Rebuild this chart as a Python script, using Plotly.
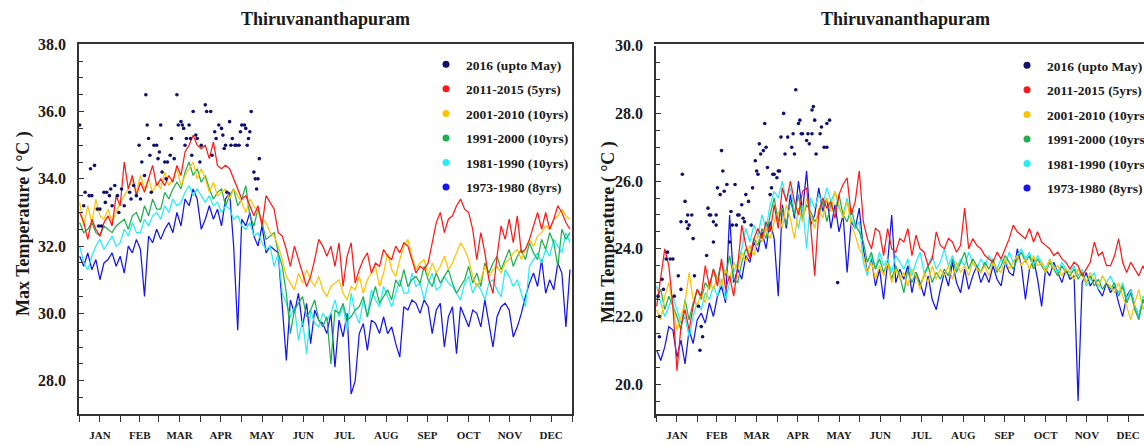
import plotly.graph_objects as go

# ---------------- data ----------------
# sample days (day of year, every 3rd day)
DAYS = list(range(1, 366, 3))

SERIES = ["2016 (upto May)", "2011-2015 (5yrs)", "2001-2010 (10yrs)",
          "1991-2000 (10yrs)", "1981-1990 (10yrs)", "1973-1980 (8yrs)"]
MONTHS = ["JAN", "FEB", "MAR", "APR", "MAY", "JUN",
          "JUL", "AUG", "SEP", "OCT", "NOV", "DEC"]
MONTH_START = [0.5, 31.5, 59.5, 90.5, 120.5, 151.5, 181.5, 212.5, 243.5, 273.5, 304.5, 334.5, 365.5]
MONTH_MID = [16, 45.5, 75, 105.5, 136, 166.5, 197, 228, 258.5, 289, 319.5, 350]

# ---- Max temperature ----
MAX_2011_2015 = (
    [33.0, 32.7, 32.2, 32.8, 32.5, 32.3, 32.7, 32.9, 32.6, 33.5, 33.2] +
    [34.5, 33.7, 34.1, 33.5, 33.9, 33.6, 34.0, 34.4, 33.8] +
    [34.0, 33.8, 34.1, 33.9, 34.4, 34.1, 34.8, 35.0, 35.3, 35.0] +
    [34.9, 35.0, 34.6, 35.1, 34.4, 34.3, 34.4, 34.3, 34.0, 33.7] +
    [33.4, 33.5, 33.2, 32.9, 33.2, 32.6, 33.5, 33.3, 33.1, 32.4, 32.3] +
    [31.9, 31.4, 32.0, 31.6, 31.2, 30.8, 31.1, 31.6, 32.2, 32.0] +
    [31.7, 32.0, 31.4, 32.1, 30.8, 31.7, 32.1, 30.9, 31.3, 31.6] +
    [31.8, 31.2, 31.5, 31.4, 31.9, 31.7, 31.6, 32.0, 31.8, 32.1] +
    [32.0, 31.6, 31.2, 31.4, 31.3, 31.5, 32.1, 32.7, 33.0, 32.4] +
    [32.8, 32.9, 33.2, 33.4, 33.1, 33.0, 32.5, 31.6, 32.4, 31.8, 31.0] +
    [30.6, 31.7, 32.6, 32.2, 32.8, 32.1, 32.9, 31.8, 31.9, 32.2] +
    [32.6, 33.0, 32.5, 33.0, 32.5, 32.8, 33.2, 33.0, 32.7, 32.5])
MAX_2001_2010 = (
    [33.3, 32.6, 33.2, 32.7, 33.4, 32.9, 32.8, 33.1, 32.7, 33.0, 33.3] +
    [33.5, 33.7, 34.0, 33.6, 34.1, 33.7, 34.0, 33.6, 33.9] +
    [33.7, 34.2, 33.8, 34.0, 34.3, 33.8, 34.1, 34.3, 34.5, 34.0] +
    [34.3, 34.0, 33.6, 33.9, 33.5, 33.6, 33.7, 33.4, 33.7, 33.5] +
    [33.3, 33.0, 33.4, 33.2, 33.0, 32.8, 32.7, 32.4, 32.3, 32.0, 31.6] +
    [31.1, 30.9, 30.7, 31.2, 30.9, 31.3, 31.0, 30.8, 31.1, 30.7] +
    [30.5, 30.8, 30.9, 31.0, 30.6, 30.4, 30.8, 30.7, 31.1, 30.6] +
    [31.0, 31.2, 31.4, 30.8, 31.2, 31.8, 31.3, 31.1, 31.6, 32.0] +
    [32.2, 31.7, 31.3, 31.5, 31.6, 31.1, 31.5, 31.2, 31.4, 31.7] +
    [31.3, 31.5, 31.8, 32.1, 31.9, 31.6, 31.1, 30.8, 31.0, 31.4, 31.1] +
    [31.3, 31.4, 31.2, 31.5, 31.6, 31.8, 31.9, 31.6, 31.9, 32.2] +
    [32.0, 32.3, 32.4, 32.6, 32.5, 32.8, 32.9, 33.1, 32.9, 32.8])
MAX_1991_2000 = (
    [32.7, 32.4, 32.5, 32.7, 32.4, 32.3, 32.6, 32.5, 32.4, 32.6, 32.7] +
    [32.8, 32.5, 32.9, 33.0, 32.7, 33.2, 32.9, 33.4, 33.1] +
    [33.1, 33.6, 33.4, 33.7, 33.9, 33.7, 34.2, 34.5, 34.1, 34.3] +
    [33.9, 34.1, 33.7, 33.4, 33.6, 33.7, 33.2, 33.5, 33.7, 33.2] +
    [33.4, 33.8, 32.9, 32.6, 33.1, 32.7, 32.2, 32.3, 32.4, 31.8, 31.4] +
    [30.6, 29.4, 30.1, 30.3, 30.5, 29.9, 30.1, 30.4, 29.8, 29.6] +
    [29.9, 28.5, 30.1, 30.0, 30.3, 29.8, 29.9, 30.1, 30.2, 30.5] +
    [29.9, 30.4, 30.8, 30.3, 30.5, 30.7, 30.4, 31.0, 30.8, 31.3] +
    [30.8, 31.0, 31.1, 30.9, 31.4, 31.0, 30.8, 31.2, 30.9, 31.1] +
    [31.3, 30.9, 30.6, 30.8, 31.0, 31.4, 30.9, 31.2, 30.8, 31.5, 31.2] +
    [31.5, 31.7, 31.3, 31.6, 31.9, 31.4, 31.7, 31.9, 31.6, 32.1] +
    [31.8, 31.6, 32.2, 31.9, 32.4, 32.1, 31.4, 32.5, 32.2, 32.4])
MAX_1981_1990 = (
    [32.0, 31.5, 31.3, 31.7, 32.0, 32.2, 31.9, 32.1, 32.3, 32.0, 32.1] +
    [32.5, 32.3, 32.7, 32.4, 32.4, 32.8, 32.6, 32.9, 33.0] +
    [32.8, 33.2, 33.0, 33.4, 33.2, 33.3, 33.6, 33.8, 33.5, 33.7] +
    [33.5, 33.3, 33.5, 33.2, 33.3, 33.0, 33.2, 33.1, 32.8, 32.9] +
    [32.6, 32.5, 32.7, 32.3, 32.4, 32.1, 31.9, 32.0, 31.4, 31.8, 30.6] +
    [30.3, 29.9, 30.2, 29.2, 29.8, 28.8, 30.1, 29.7, 29.6, 30.0] +
    [29.8, 30.0, 30.4, 29.9, 30.2, 29.5, 30.6, 30.0, 29.7, 30.4] +
    [29.9, 30.7, 30.4, 30.2, 30.8, 30.5, 30.2, 30.6, 31.0, 30.6] +
    [30.6, 31.2, 30.8, 30.9, 30.4, 30.9, 31.2, 30.7, 30.8, 31.1] +
    [30.9, 30.8, 30.6, 30.4, 30.9, 31.1, 30.6, 30.9, 30.7, 30.4, 30.9] +
    [31.0, 30.7, 30.5, 31.3, 31.1, 30.8, 31.0, 30.6, 30.2, 31.4] +
    [31.6, 31.8, 31.5, 31.9, 31.7, 32.2, 32.0, 31.8, 32.4, 32.1])
MAX_1973_1980 = (
    [31.7, 31.4, 31.8, 31.3, 31.6, 31.0, 31.5, 31.6, 31.8, 31.4, 31.7] +
    [31.2, 32.0, 31.8, 32.2, 31.9, 30.5, 32.3, 32.1, 32.5] +
    [32.2, 32.5, 32.7, 32.4, 33.0, 32.6, 33.4, 33.2, 33.7, 33.4] +
    [32.5, 32.8, 33.2, 32.8, 33.1, 32.6, 33.4, 33.6, 32.0, 29.5] +
    [32.8, 32.6, 33.0, 32.3, 32.0, 32.6, 31.8, 32.0, 31.9, 31.8, 30.2] +
    [28.6, 30.4, 30.0, 30.6, 29.6, 30.3, 29.1, 30.1, 29.8, 29.7] +
    [29.4, 30.0, 28.4, 29.8, 29.3, 30.0, 27.6, 28.0, 29.4, 29.7] +
    [28.9, 29.8, 29.7, 29.4, 29.9, 29.4, 29.6, 29.1, 28.7, 30.2] +
    [30.1, 30.4, 30.3, 30.0, 30.4, 30.2, 29.4, 30.1, 30.3, 29.0] +
    [29.9, 30.2, 28.8, 30.2, 29.9, 29.6, 30.1, 30.0, 29.6, 30.4, 29.7] +
    [29.0, 29.9, 30.2, 30.3, 30.1, 29.3, 29.6, 30.0, 30.5, 30.9] +
    [31.2, 30.8, 31.6, 30.6, 31.0, 30.7, 31.5, 31.2, 29.6, 31.3])
MAX_2016_DAY = [1, 4, 5, 8, 9, 12, 10, 14, 16, 15, 17, 19, 21, 20, 23, 24, 25, 27, 29, 30,
                32, 34, 38, 39, 41, 43, 45, 46, 47, 49, 50, 51, 52, 53, 54, 56, 58, 60, 59, 61,
                62, 64, 65, 66, 68, 69, 71, 73, 74, 76, 77, 78, 79, 80, 82, 83, 84, 85, 87, 88,
                90, 91, 94, 95, 98, 99, 101, 102, 104, 106, 107, 108, 109, 110, 112, 113, 114, 116, 117, 119,
                120, 121, 123, 124, 125, 126, 127, 128, 130, 131, 133, 134, 132]
MAX_2016_VAL = [35.6, 33.2, 33.6, 33.5, 34.3, 34.4, 33.5, 33.1, 33.1, 32.6, 32.6, 33.6, 33.6, 33.3, 33.5, 33.7, 33.2, 33.8, 33.5, 33.0,
                33.7, 33.2, 33.6, 33.4, 33.8, 33.5, 35.0, 33.4, 34.5, 34.1, 36.5, 35.6, 35.2, 34.7, 33.6, 35.0, 35.0, 34.8, 34.6, 35.6,
                34.2, 34.5, 34.0, 34.5, 34.7, 35.2, 34.6, 36.5, 35.6, 35.7, 35.6, 35.5, 35.0, 35.2, 35.6, 35.2, 34.7, 36.0, 35.3, 35.2,
                34.5, 35.0, 36.2, 36.0, 36.0, 34.7, 35.4, 35.2, 35.6, 35.5, 35.3, 34.9, 35.0, 33.6, 35.7, 35.0, 35.2, 35.0, 35.0, 35.0,
                35.4, 35.6, 35.6, 35.5, 35.0, 35.2, 35.4, 36.0, 34.2, 34.0, 34.0, 34.6, 33.7]

# ---- Min temperature ----
MIN_2011_2015 = (
    [22.3, 23.2, 24.0, 23.5, 22.3, 20.4, 21.7, 22.2, 21.6, 22.3, 22.8] +
    [22.6, 23.5, 22.9, 23.4, 22.9, 23.7, 22.8, 23.2, 22.6] +
    [23.5, 24.7, 24.1, 23.7, 24.3, 24.6, 24.3, 24.8, 24.5, 25.3] +
    [24.6, 25.8, 25.4, 26.0, 25.4, 25.0, 25.7, 25.8, 24.7, 23.2] +
    [25.1, 25.5, 25.2, 25.4, 24.9, 25.6, 25.9, 26.1, 25.0, 25.4, 26.3] +
    [24.8, 24.3, 24.0, 24.6, 24.5, 23.8, 24.6, 24.0, 23.9, 24.3] +
    [24.2, 24.6, 23.8, 24.4, 24.0, 23.9, 23.5, 23.7, 24.5, 24.1] +
    [24.0, 24.3, 24.2, 23.9, 24.1, 25.2, 24.0, 24.3, 24.1, 24.0] +
    [23.8, 23.7, 23.6, 23.9, 23.7, 24.0, 24.3, 24.7, 24.5, 24.4] +
    [24.3, 24.6, 24.2, 24.5, 24.2, 24.1, 24.0, 23.8, 23.9, 23.7, 23.6] +
    [23.4, 23.6, 23.5, 23.2, 23.4, 23.6, 24.2, 23.8, 23.9, 23.5] +
    [23.5, 23.8, 24.3, 23.6, 23.3, 23.6, 23.4, 23.2, 23.5, 23.2])
MIN_2001_2010 = (
    [22.2, 21.9, 22.6, 23.0, 22.3, 21.6, 22.0, 22.4, 23.3, 22.5, 22.3] +
    [22.7, 22.4, 23.0, 22.8, 23.2, 22.9, 23.4, 23.1, 23.6] +
    [23.4, 23.9, 23.6, 24.1, 23.8, 24.4, 24.2, 24.6, 24.3, 24.8] +
    [25.1, 24.6, 25.3, 24.9, 24.3, 25.2, 24.8, 25.5, 25.0, 24.6] +
    [25.2, 24.9, 25.5, 25.1, 25.7, 25.3, 24.9, 25.4, 24.7, 24.4, 24.0] +
    [23.8, 23.3, 23.6, 23.1, 23.5, 23.2, 23.6, 23.0, 23.4, 23.1] +
    [23.3, 22.9, 23.4, 23.2, 22.8, 23.3, 23.0, 23.5, 23.1, 23.4] +
    [23.2, 23.5, 23.1, 23.6, 23.3, 23.5, 23.2, 23.6, 23.4, 23.3] +
    [23.5, 23.2, 23.6, 23.4, 23.3, 23.7, 23.4, 23.6, 23.8, 23.5] +
    [23.7, 23.4, 23.8, 23.5, 23.6, 23.3, 23.7, 23.4, 23.5, 23.2, 23.4] +
    [23.3, 23.1, 23.4, 23.2, 23.0, 23.3, 23.1, 22.9, 23.2, 23.0] +
    [22.9, 22.7, 23.0, 22.6, 22.3, 21.9, 22.4, 22.8, 22.2, 22.6])
MIN_1991_2000 = (
    [22.5, 22.8, 22.2, 22.6, 22.3, 22.0, 21.6, 22.5, 21.9, 22.4, 22.8] +
    [22.5, 23.0, 22.8, 23.4, 23.1, 23.6, 23.2, 23.8, 23.1] +
    [23.0, 23.6, 24.0, 23.8, 24.3, 24.1, 24.6, 24.3, 25.0, 25.5] +
    [24.8, 25.2, 24.7, 25.4, 25.0, 25.6, 24.9, 25.3, 25.1, 24.8] +
    [25.0, 25.4, 24.8, 25.3, 25.1, 25.6, 25.0, 24.8, 25.2, 24.7, 24.5] +
    [24.2, 23.6, 23.9, 23.4, 23.7, 23.3, 23.6, 23.1, 23.5, 23.2] +
    [22.7, 23.4, 23.0, 23.3, 22.9, 23.2, 23.5, 23.0, 23.3, 23.1] +
    [23.4, 23.2, 23.7, 23.3, 23.6, 23.9, 23.4, 23.7, 23.5, 23.3] +
    [23.6, 23.4, 23.7, 23.3, 23.5, 23.8, 23.6, 23.4, 23.7, 23.9] +
    [23.6, 23.8, 23.4, 23.7, 23.5, 23.3, 23.6, 23.4, 23.2, 23.5, 23.3] +
    [23.2, 23.4, 23.1, 23.3, 23.0, 23.2, 22.9, 23.1, 22.8, 23.0] +
    [22.8, 23.0, 22.6, 22.9, 22.4, 22.7, 22.2, 21.9, 22.5, 22.3])
MIN_1981_1990 = (
    [22.9, 22.4, 22.0, 22.3, 22.6, 22.2, 21.8, 22.0, 21.4, 22.0, 22.4] +
    [22.2, 22.7, 22.5, 22.9, 22.6, 23.1, 22.5, 23.0, 23.3] +
    [23.6, 24.0, 24.6, 24.2, 24.7, 24.4, 25.0, 24.6, 25.3, 25.7] +
    [25.5, 26.0, 25.4, 25.8, 25.1, 24.6, 25.3, 24.0, 25.5, 25.2] +
    [25.6, 25.3, 25.8, 25.4, 25.7, 25.2, 25.0, 25.5, 24.9, 24.6, 24.8] +
    [23.6, 23.2, 23.8, 23.4, 23.9, 23.5, 23.7, 23.3, 23.8, 23.6] +
    [23.4, 23.7, 23.2, 23.6, 23.9, 23.3, 23.5, 23.8, 23.4, 23.6] +
    [24.0, 23.5, 23.8, 23.4, 23.7, 23.5, 23.9, 23.6, 23.4, 23.7] +
    [23.5, 23.8, 23.6, 23.4, 23.7, 23.5, 23.9, 23.6, 23.8, 24.0] +
    [23.7, 23.9, 23.5, 23.8, 23.6, 23.4, 23.7, 23.5, 23.3, 23.6, 23.4] +
    [23.3, 23.5, 23.2, 23.4, 22.9, 23.1, 23.3, 22.8, 23.2, 23.0] +
    [23.2, 22.9, 22.7, 23.0, 22.5, 22.8, 22.3, 22.0, 22.6, 22.4])
MIN_1973_1980 = (
    [21.0, 20.7, 21.1, 21.7, 21.6, 20.8, 21.3, 20.6, 21.6, 21.2, 21.9] +
    [22.1, 21.8, 22.4, 22.0, 22.6, 22.9, 22.4, 25.0, 23.0] +
    [23.4, 23.1, 23.8, 23.6, 24.2, 23.9, 24.5, 24.0, 24.8, 24.3] +
    [22.6, 25.3, 24.6, 25.6, 24.9, 26.0, 25.1, 26.3, 24.7, 25.0] +
    [25.8, 25.1, 25.5, 24.6, 25.3, 24.5, 25.0, 23.3, 24.8, 24.6, 25.2] +
    [24.0, 23.3, 23.7, 22.9, 23.4, 22.5, 23.6, 25.0, 23.0, 23.4] +
    [23.1, 23.5, 22.7, 23.3, 23.0, 22.6, 23.2, 22.5, 22.2, 22.8] +
    [23.3, 22.9, 23.6, 23.0, 22.7, 23.4, 22.8, 23.2, 23.5, 23.0] +
    [23.3, 23.0, 23.5, 23.1, 22.9, 23.6, 23.3, 23.2, 24.0, 23.5] +
    [22.5, 23.4, 23.7, 23.1, 22.3, 23.4, 23.2, 23.6, 23.3, 23.0, 23.4] +
    [23.1, 23.2, 19.5, 23.0, 23.3, 22.9, 23.1, 22.8, 22.6, 23.0] +
    [22.7, 22.9, 22.4, 22.0, 22.6, 22.8, 22.3, 22.0, 22.5, 22.2])
MIN_2016_DAY = [2, 3, 3, 5, 6, 8, 9, 11, 13, 14, 17, 19, 19, 20, 22, 23, 24, 24, 25, 27,
                28, 29, 32, 33, 34, 35, 38, 39, 40, 41, 43, 43, 45, 45, 46, 48, 49, 50, 51, 53,
                55, 56, 57, 59, 60, 61, 62, 64, 65, 66, 67, 69, 71, 72, 74, 75, 76, 77, 78, 80,
                81, 82, 83, 85, 86, 87, 88, 90, 91, 92, 93, 95, 96, 98, 101, 102, 103, 104, 106, 107,
                108, 109, 112, 113, 114, 116, 116, 117, 118, 119, 122, 123, 125, 127, 127, 129, 135]
MIN_2016_VAL = [22.6, 22.0, 21.4, 23.1, 22.8, 23.7, 23.9, 23.7, 23.7, 22.6, 23.2, 22.8, 24.8, 26.2, 25.4, 24.8, 25.0, 24.6, 24.7, 25.0,
                24.3, 23.2, 22.3, 21.0, 21.7, 21.4, 23.8, 25.2, 25.0, 25.0, 24.8, 24.2, 25.0, 24.7, 25.8, 25.6, 26.9, 26.3, 25.7, 25.9,
                24.2, 25.1, 24.7, 25.9, 24.7, 25.0, 25.0, 25.3, 24.9, 24.8, 25.6, 25.4, 24.7, 25.8, 26.6, 26.3, 26.2, 27.1, 26.8, 26.9,
                27.7, 27.0, 26.4, 25.6, 25.8, 26.2, 26.2, 26.1, 26.3, 26.3, 27.3, 28.0, 26.8, 27.3, 27.0, 27.4, 26.8, 28.7, 27.7, 27.8,
                27.4, 27.4, 27.2, 27.4, 27.1, 27.4, 28.1, 28.2, 27.8, 26.8, 27.4, 27.6, 27.0, 27.0, 27.7, 27.8, 23.0]

# ---------------- style ----------------
COLORS = ["#10106e", "#ff1a1a", "#ffc400", "#1eb050", "#22eef8", "#1515f0"]
FONT = "Liberation Serif"
INK = "#1a1a1a"
AX = "#333333"

fig = go.Figure()

panels = [
    dict(xa="x", ya="y", legend="legend",
         lines=[MAX_2011_2015, MAX_2001_2010, MAX_1991_2000, MAX_1981_1990, MAX_1973_1980],
         dx=MAX_2016_DAY, dy=MAX_2016_VAL),
    dict(xa="x2", ya="y2", legend="legend2",
         lines=[MIN_2011_2015, MIN_2001_2010, MIN_1991_2000, MIN_1981_1990, MIN_1973_1980],
         dx=MIN_2016_DAY, dy=MIN_2016_VAL),
]

for p, pan in enumerate(panels):
    # lines, drawn oldest first so the recent period sits on top
    for k in range(4, -1, -1):
        vals = pan["lines"][k]
        fig.add_trace(go.Scatter(
            x=DAYS[:len(vals)], y=vals, mode="lines", name=SERIES[k + 1],
            line=dict(color=COLORS[k + 1], width=1.25),
            xaxis=pan["xa"], yaxis=pan["ya"], showlegend=False, hoverinfo="skip"))
    fig.add_trace(go.Scatter(
        x=pan["dx"], y=pan["dy"], mode="markers", name=SERIES[0],
        marker=dict(color=COLORS[0], size=3.6),
        xaxis=pan["xa"], yaxis=pan["ya"], showlegend=False, hoverinfo="skip"))
    # legend entries (dot symbols)
    for k, name in enumerate(SERIES):
        fig.add_trace(go.Scatter(
            x=[None], y=[None], mode="markers", name=name,
            marker=dict(color=COLORS[k], size=7),
            xaxis=pan["xa"], yaxis=pan["ya"], legend=pan["legend"],
            legendgroup=f"p{p}s{k}", showlegend=True))

W, H = 1144, 445
tickpos = sorted(MONTH_START + MONTH_MID)
ticktext = [MONTHS[MONTH_MID.index(v)] if v in MONTH_MID else "" for v in tickpos]

def xaxis(domain, rng):
    return dict(domain=domain, range=rng, tickmode="array", tickvals=tickpos, ticktext=ticktext,
                ticks="outside", ticklen=6, tickwidth=1.2, tickcolor=AX,
                showline=True, linecolor=AX, linewidth=1.6, mirror=True, automargin=False,
                showgrid=False, zeroline=False, ticklabelstandoff=4,
                tickfont=dict(family=FONT, size=11, color=INK, weight="bold"))

def yaxis(domain, rng, anchor, mirror):
    return dict(domain=domain, range=rng, tick0=rng[0] + 1, dtick=2, tickformat=".1f",
                ticks="inside", ticklen=5, tickwidth=1.2, tickcolor=AX,
                minor=dict(dtick=0.5, tick0=rng[0], ticks="inside", ticklen=4, tickwidth=1.2, tickcolor=AX),
                showline=True, linecolor=AX, linewidth=1.6, mirror=mirror, automargin=False,
                showgrid=False, zeroline=False, anchor=anchor, ticklabelstandoff=8,
                tickfont=dict(family=FONT, size=16, color=INK, weight="bold"))

title_font = dict(family=FONT, size=18, color=INK, weight="bold")
PXDAY = 493 / 365.0
fig.update_layout(
    width=W, height=H, margin=dict(l=0, r=0, t=0, b=0, autoexpand=False),
    paper_bgcolor="white", plot_bgcolor="white",
    xaxis=xaxis([79 / W, 572 / W], [0.5, 365.5]),
    yaxis=yaxis([1 - 414.3 / H, 1 - 44.3 / H], [27, 38], "x", True),
    xaxis2=xaxis([656 / W, 1.0], [0.5, 0.5 + (W - 656) / PXDAY]),
    yaxis2=yaxis([1 - 418 / H, 1 - 45.7 / H], [19, 30], "x2", False),
    legend=dict(x=426 / W, y=1 - 49 / H, xanchor="left", yanchor="top", bgcolor="rgba(0,0,0,0)",
                tracegroupgap=4, font=dict(family=FONT, size=13.5, color=INK, weight="bold")),
    legend2=dict(x=1007 / W, y=1 - 50 / H, xanchor="left", yanchor="top", bgcolor="rgba(0,0,0,0)",
                 tracegroupgap=4, font=dict(family=FONT, size=13.5, color=INK, weight="bold")),
    annotations=[
        dict(text="Thiruvananthapuram", x=(79 + 572) / 2 / W, y=1 - 19 / H, xref="paper", yref="paper",
             showarrow=False, xanchor="center", yanchor="middle", font=title_font),
        dict(text="Thiruvananthapuram", x=905 / W, y=1 - 19 / H, xref="paper", yref="paper",
             showarrow=False, xanchor="center", yanchor="middle", font=title_font),
        dict(text="Max Temperature ( °C )", x=23 / W, y=1 - 224 / H, xref="paper", yref="paper",
             showarrow=False, xanchor="center", yanchor="middle", textangle=-90, font=title_font),
        dict(text="Min Temperature ( °C )", x=608 / W, y=1 - 232 / H, xref="paper", yref="paper",
             showarrow=False, xanchor="center", yanchor="middle", textangle=-90, font=title_font),
    ],
)

fig.write_html("out.html", config={"displayModeBar": False},
               post_script="document.body.style.margin='0px';")
